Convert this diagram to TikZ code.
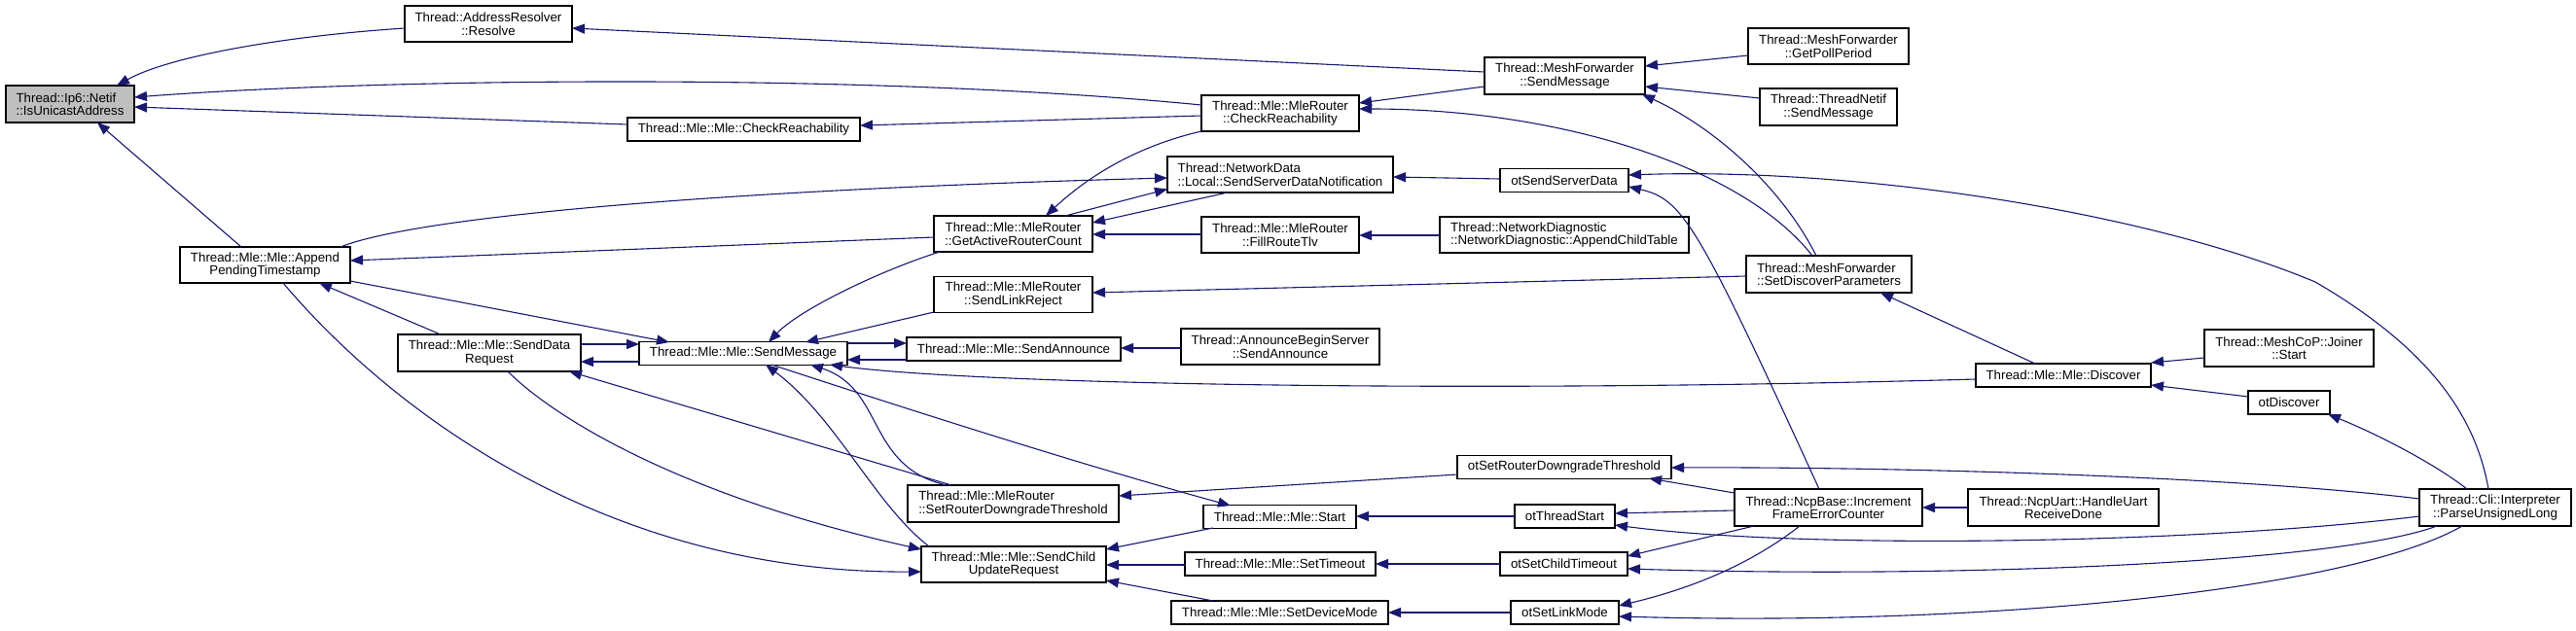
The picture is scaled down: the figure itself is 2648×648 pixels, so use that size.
\documentclass[tikz,border=0pt]{standalone}
\usepackage{fontspec}
\setmainfont{Liberation Sans}
\usetikzlibrary{arrows.meta}
\definecolor{edgec}{RGB}{25,25,112}
\definecolor{greyfill}{RGB}{191,191,191}
\tikzset{
  box/.style={draw=black, line width=1.1pt, inner sep=0pt, align=center, fill=white},
  lbox/.style={box, align=left},
  cedge/.style={draw=edgec, line width=1.1pt, {Triangle[length=13pt,width=10pt,fill=edgec]}-},
}
\begin{document}
\begin{tikzpicture}[x=1pt,y=-1pt,font=\fontsize{13.3}{13.5}\selectfont]
\useasboundingbox (0,0) rectangle (2648,648);
% nodes
\node[lbox,fill=greyfill,minimum width=132pt,minimum height=38pt] (iu) at (72,107) {Thread::Ip6::Netif\\::IsUnicastAddress};
\node[box,minimum width=172pt,minimum height=37pt] (res) at (502,24.5) {Thread::AddressResolver\\::Resolve};
\node[box,minimum width=239pt,minimum height=24pt] (mcr) at (764.5,133) {Thread::Mle::Mle::CheckReachability};
\node[box,minimum width=175pt,minimum height=37pt] (apt) at (272.5,272.5) {Thread::Mle::Mle::Append\\PendingTimestamp};
\node[box,minimum width=188pt,minimum height=38pt] (sdr) at (503,363) {Thread::Mle::Mle::SendData\\Request};
\node[box,minimum width=214pt,minimum height=24pt] (sm) at (764,363.5) {Thread::Mle::Mle::SendMessage};
\node[box,minimum width=165pt,minimum height=38pt] (mfsm) at (1608.5,78) {Thread::MeshForwarder\\::SendMessage};
\node[box,minimum width=162pt,minimum height=37pt] (mrcr) at (1316,116.5) {Thread::Mle::MleRouter\\::CheckReachability};
\node[lbox,minimum width=232pt,minimum height=37pt] (ssdn) at (1316,179.5) {Thread::NetworkData\\::Local::SendServerDataNotification};
\node[box,minimum width=132pt,minimum height=24pt] (otssd) at (1608,185.5) {otSendServerData};
\node[box,minimum width=163pt,minimum height=37pt] (gar) at (1041.5,240.5) {Thread::Mle::MleRouter\\::GetActiveRouterCount};
\node[box,minimum width=162pt,minimum height=37pt] (frt) at (1316,241.5) {Thread::Mle::MleRouter\\::FillRouteTlv};
\node[lbox,minimum width=256pt,minimum height=37pt] (act) at (1608,241.5) {Thread::NetworkDiagnostic\\::NetworkDiagnostic::AppendChildTable};
\node[box,minimum width=163pt,minimum height=37pt] (slr) at (1041.5,303) {Thread::Mle::MleRouter\\::SendLinkReject};
\node[box,minimum width=220pt,minimum height=24pt] (sa) at (1042,359) {Thread::Mle::Mle::SendAnnounce};
\node[box,minimum width=204pt,minimum height=37pt] (abs) at (1316,356.5) {Thread::AnnounceBeginServer\\::SendAnnounce};
\node[box,minimum width=220pt,minimum height=24pt] (otsrdt) at (1608,480.5) {otSetRouterDowngradeThreshold};
\node[lbox,minimum width=217pt,minimum height=38pt] (mrsrdt) at (1041.5,518) {Thread::Mle::MleRouter\\::SetRouterDowngradeThreshold};
\node[box,minimum width=157pt,minimum height=24pt] (start) at (1315.5,531.5) {Thread::Mle::Mle::Start};
\node[box,minimum width=103pt,minimum height=24pt] (otts) at (1608.5,531) {otThreadStart};
\node[box,minimum width=190pt,minimum height=37pt] (scur) at (1042,580.5) {Thread::Mle::Mle::SendChild\\UpdateRequest};
\node[box,minimum width=196pt,minimum height=24pt] (sto) at (1316,580) {Thread::Mle::Mle::SetTimeout};
\node[box,minimum width=131pt,minimum height=24pt] (otsct) at (1607.5,580) {otSetChildTimeout};
\node[box,minimum width=223pt,minimum height=24pt] (sdm) at (1315.5,630) {Thread::Mle::Mle::SetDeviceMode};
\node[box,minimum width=111pt,minimum height=24pt] (otslm) at (1608.5,630) {otSetLinkMode};
\node[box,minimum width=165pt,minimum height=37pt] (gpp) at (1879.5,47.5) {Thread::MeshForwarder\\::GetPollPeriod};
\node[box,minimum width=141pt,minimum height=38pt] (tnsm) at (1879.5,110) {Thread::ThreadNetif\\::SendMessage};
\node[lbox,minimum width=170pt,minimum height=38pt] (sdp) at (1880,282) {Thread::MeshForwarder\\::SetDiscoverParameters};
\node[box,minimum width=180pt,minimum height=24pt] (disc) at (2121,386) {Thread::Mle::Mle::Discover};
\node[box,minimum width=193pt,minimum height=38pt] (ncp) at (1879.5,522) {Thread::NcpBase::Increment\\FrameErrorCounter};
\node[box,minimum width=196pt,minimum height=38pt] (uart) at (2121,522) {Thread::NcpUart::HandleUart\\ReceiveDone};
\node[box,minimum width=174pt,minimum height=38pt] (join) at (2353,358) {Thread::MeshCoP::Joiner\\::Start};
\node[box,minimum width=84pt,minimum height=24pt] (otdisc) at (2353,414) {otDiscover};
\node[box,minimum width=156pt,minimum height=38pt] (cli) at (2565,522) {Thread::Cli::Interpreter\\::ParseUnsignedLong};
\coordinate (bend) at (2380,290);
% edges (arrow at callee, first point)
\draw[cedge] ([shift={(48,-19)}]iu.center) .. controls (170,60) and (280,38) .. ([shift={(-86,4.5)}]res.center);
\draw[cedge] ([shift={(66,-7)}]iu.center) .. controls (400,80) and (900,75) .. ([shift={(-81,-8.5)}]mrcr.center);
\draw[cedge] ([shift={(66,3)}]iu.center) -- ([shift={(-119.5,-5)}]mcr.center);
\draw[cedge] ([shift={(28,19)}]iu.center) -- ([shift={(-24.5,-18.5)}]apt.center);
\draw[cedge] ([shift={(86,4.5)}]res.center) -- ([shift={(-82.5,-4)}]mfsm.center);
\draw[cedge] ([shift={(119.5,-4)}]mcr.center) -- ([shift={(-81,2.5)}]mrcr.center);
\draw[cedge] ([shift={(81,-10.5)}]mrcr.center) -- ([shift={(-82.5,11)}]mfsm.center);
\draw[cedge] ([shift={(81,-4.5)}]mrcr.center) .. controls (1600,112) and (1790,170) .. ([shift={(-17,-19)}]sdp.center);
\draw[cedge] ([shift={(79.5,19)}]mfsm.center) .. controls (1760,130) and (1830,190) .. ([shift={(-13,-19)}]sdp.center);
\draw[cedge] ([shift={(82.5,-10)}]mfsm.center) -- ([shift={(-82.5,9.5)}]gpp.center);
\draw[cedge] ([shift={(82.5,11)}]mfsm.center) -- ([shift={(-70.5,-9)}]tnsm.center);
\draw[cedge] ([shift={(33.5,-18.5)}]gar.center) .. controls (1120,180) and (1170,150) .. ([shift={(-81,18.5)}]mrcr.center);
\draw[cedge] ([shift={(-116,15)}]ssdn.center) -- ([shift={(53.5,-18.5)}]gar.center);
\draw[cedge] ([shift={(81.5,-11.5)}]gar.center) -- ([shift={(-54,18.5)}]ssdn.center);
\draw[cedge] ([shift={(81.5,0.5)}]gar.center) -- ([shift={(-81,-0.5)}]frt.center);
\draw[cedge] ([shift={(81,0.5)}]frt.center) -- ([shift={(-128,0.5)}]act.center);
\draw[cedge] ([shift={(116,2.5)}]ssdn.center) -- ([shift={(-66,-1.5)}]otssd.center);
\draw[cedge] ([shift={(-116,3.5)}]ssdn.center) .. controls (750,195) and (430,222) .. ([shift={(77.5,-18.5)}]apt.center);
\draw[cedge] ([shift={(87.5,-4.5)}]apt.center) -- ([shift={(-81.5,3.5)}]gar.center);
\draw[cedge] ([shift={(-76,-11.5)}]sm.center) -- ([shift={(87.5,16.5)}]apt.center);
\draw[cedge] ([shift={(55.5,18.5)}]apt.center) -- ([shift={(-50,-19)}]sdr.center);
\draw[cedge] ([shift={(-95,7.5)}]scur.center) .. controls (620,590) and (400,420) .. ([shift={(18.5,18.5)}]apt.center);
\draw[cedge] ([shift={(-95,-15.5)}]scur.center) .. controls (700,510) and (570,430) .. ([shift={(19,19)}]sdr.center);
\draw[cedge] ([shift={(94,9)}]sdr.center) -- ([shift={(-107,8.5)}]sm.center);
\draw[cedge] ([shift={(-107,-9.5)}]sm.center) -- ([shift={(94,-9)}]sdr.center);
\draw[cedge] ([shift={(82,19)}]sdr.center) -- ([shift={(-63.5,-19)}]mrsrdt.center);
\draw[cedge] ([shift={(26,-11.5)}]sm.center) .. controls (820,320) and (900,280) .. ([shift={(-75.5,18.5)}]gar.center);
\draw[cedge] ([shift={(64,-11.5)}]sm.center) -- ([shift={(-81.5,18)}]slr.center);
\draw[cedge] ([shift={(81.5,-2)}]slr.center) -- ([shift={(-85,2)}]sdp.center);
\draw[cedge] ([shift={(-110,-6)}]sa.center) -- ([shift={(107,-10.5)}]sm.center);
\draw[cedge] ([shift={(107,6.5)}]sm.center) -- ([shift={(-110,11)}]sa.center);
\draw[cedge] ([shift={(110,-1)}]sa.center) -- ([shift={(-102,1.5)}]abs.center);
\draw[cedge] ([shift={(89,11.5)}]sm.center) .. controls (1000,395) and (1500,405) .. ([shift={(-90,4)}]disc.center);
\draw[cedge] ([shift={(69,11.5)}]sm.center) .. controls (910,400) and (890,480) .. ([shift={(-68.5,-19)}]mrsrdt.center);
\draw[cedge] ([shift={(23,11.5)}]sm.center) .. controls (860,430) and (900,520) .. ([shift={(-87,-18.5)}]scur.center);
\draw[cedge] ([shift={(-50.5,-11.5)}]start.center) .. controls (1100,475) and (900,410) .. ([shift={(29,11.5)}]sm.center);
\draw[cedge] ([shift={(108.5,-8)}]mrsrdt.center) -- ([shift={(-110,7.5)}]otsrdt.center);
\draw[cedge] ([shift={(95,-15.5)}]scur.center) -- ([shift={(-68.5,11.5)}]start.center);
\draw[cedge] ([shift={(95,0.5)}]scur.center) -- ([shift={(-98,1)}]sto.center);
\draw[cedge] ([shift={(95,16.5)}]scur.center) -- ([shift={(-68.5,-12)}]sdm.center);
\draw[cedge] ([shift={(78.5,-0.5)}]start.center) -- ([shift={(-51.5,0)}]otts.center);
\draw[cedge] ([shift={(98,0)}]sto.center) -- ([shift={(-65.5,0)}]otsct.center);
\draw[cedge] ([shift={(111.5,0)}]sdm.center) -- ([shift={(-55.5,0)}]otslm.center);
\draw[cedge] ([shift={(110,0.5)}]otsrdt.center) .. controls (1950,480) and (2300,490) .. ([shift={(-78,-9)}]cli.center);
\draw[cedge] ([shift={(87,11.5)}]otsrdt.center) -- ([shift={(-96.5,-15)}]ncp.center);
\draw[cedge] ([shift={(51.5,-3)}]otts.center) -- ([shift={(-96.5,3)}]ncp.center);
\draw[cedge] ([shift={(51.5,9)}]otts.center) .. controls (1850,565) and (2250,560) .. ([shift={(-78,9)}]cli.center);
\draw[cedge] ([shift={(65.5,-8)}]otsct.center) -- ([shift={(-76.5,19)}]ncp.center);
\draw[cedge] ([shift={(65.5,5)}]otsct.center) .. controls (2000,595) and (2400,580) .. ([shift={(-60,19)}]cli.center);
\draw[cedge] ([shift={(55.5,-7)}]otslm.center) .. controls (1740,605) and (1800,580) .. ([shift={(-29.5,19)}]ncp.center);
\draw[cedge] ([shift={(55.5,4)}]otslm.center) .. controls (2050,645) and (2420,605) .. ([shift={(-34,19)}]cli.center);
\draw[cedge] ([shift={(96.5,0)}]ncp.center) -- ([shift={(-98,0)}]uart.center);
\draw[cedge] ([shift={(66,6.5)}]otssd.center) .. controls (1730,205) and (1745,230) .. ([shift={(-9.5,-19)}]ncp.center);
\draw[cedge] ([shift={(66,-5.5)}]otssd.center) .. controls (1900,172) and (2200,215) .. (bend) .. controls (2500,360) and (2545,430) .. ([shift={(-7,-19)}]cli.center);
\draw[cedge] ([shift={(53,19)}]sdp.center) -- ([shift={(-29,-12)}]disc.center);
\draw[cedge] ([shift={(90,-13)}]disc.center) -- ([shift={(-87,10)}]join.center);
\draw[cedge] ([shift={(90,10)}]disc.center) -- ([shift={(-42,-6)}]otdisc.center);
\draw[cedge] ([shift={(40,12)}]otdisc.center) .. controls (2440,445) and (2500,475) .. ([shift={(-29,-19)}]cli.center);
\end{tikzpicture}
\end{document}
